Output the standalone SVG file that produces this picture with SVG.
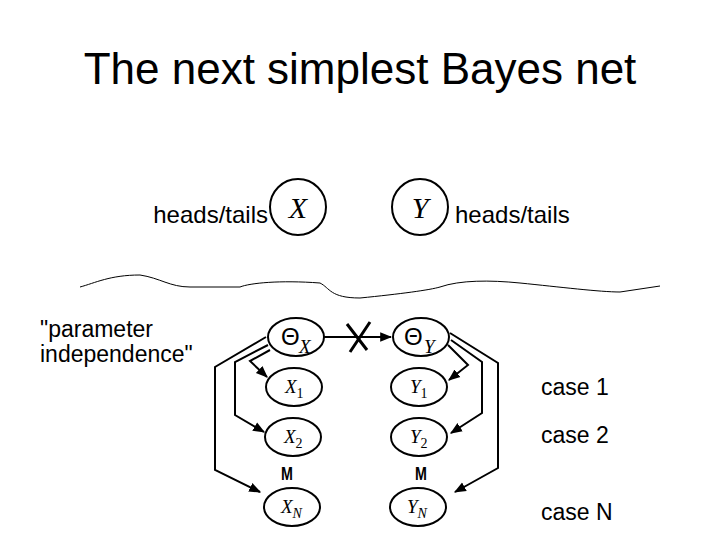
<svg xmlns="http://www.w3.org/2000/svg" width="720" height="540" viewBox="0 0 720 540">
<style>
.t{font-family:"Liberation Sans",Arial,sans-serif;fill:#000}
.m{font-family:"Liberation Serif","Times New Roman",serif;font-style:italic;fill:#000}
.n{fill:#fff;stroke:#000;stroke-width:2}
.c{fill:none;stroke:#000;stroke-width:2}
</style>
<defs><marker id="a" viewBox="0 0 10 10" refX="9" refY="5" markerWidth="6" markerHeight="6" orient="auto"><path d="M0,1 L10,5 L0,9 z"/></marker></defs>
<rect width="720" height="540" fill="#fff"/>
<text class="t" x="360" y="84" font-size="44" text-anchor="middle">The next simplest Bayes net</text>
<text class="t" x="268" y="223" font-size="24" text-anchor="end">heads/tails</text>
<text class="t" x="455" y="223" font-size="24">heads/tails</text>
<path d="M80,287 C95,283 110,275 140,275 C160,278 170,287 190,287 L240,287 C250,283 280,280 320,283 C330,288 330,298 360,298 C400,294 430,290 440,287 C460,280 490,280 520,283 C560,287 600,292 620,292 L660,286" fill="none" stroke="#000" stroke-width="1"/>
<text class="t" x="40" y="337" font-size="23">"parameter</text>
<text class="t" x="40" y="362" font-size="23">independence"</text>
<text class="t" x="541" y="395" font-size="23">case 1</text>
<text class="t" x="541" y="443" font-size="23">case 2</text>
<text class="t" x="541" y="520" font-size="23">case N</text>
<g id="X"><circle class="n" cx="298" cy="207" r="28"/><text class="m" x="298" y="218" font-size="30" text-anchor="middle">X</text></g>
<g id="Y"><circle class="n" cx="420" cy="207" r="28"/><text class="m" x="420" y="218" font-size="30" text-anchor="middle">Y</text></g>
<g id="connectors" class="c">
<path class="c" d="M324,337 L391,337" marker-end="url(#a)"/>
<path d="M347,324 L367,350 M370,322 L350,352" stroke="#000" stroke-width="3"/>
<path class="c" d="M270,350 L250,361 L267,377" marker-end="url(#a)"/>
<path class="c" d="M268,345 L235,362 L235,415 L264,432" marker-end="url(#a)"/>
<path class="c" d="M266,337 L215,367 L215,470 L260,492" marker-end="url(#a)"/>
<path class="c" d="M448,345 L468,365 L449,380" marker-end="url(#a)"/>
<path class="c" d="M451,340 L482,362 L482,413 L451,433" marker-end="url(#a)"/>
<path class="c" d="M450,333 L498,363 L498,468 L455,492" marker-end="url(#a)"/>
</g>
<g id="ThX"><ellipse class="n" cx="296" cy="337" rx="28" ry="19"/><text class="t" x="281" y="345" font-size="24">Θ</text><text class="m" x="299" y="353" font-size="19">X</text></g>
<g id="ThY"><ellipse class="n" cx="421" cy="337" rx="28" ry="19"/><text class="t" x="404" y="345" font-size="24">Θ</text><text class="m" x="424" y="353" font-size="19">Y</text></g>
<g id="X1"><ellipse class="n" cx="294" cy="387" rx="28" ry="19"/><text class="m" x="285" y="393" font-size="19">X<tspan font-style="normal" font-size="14" dy="5">1</tspan></text></g>
<g id="X2"><ellipse class="n" cx="293" cy="437" rx="28" ry="19"/><text class="m" x="284" y="443" font-size="19">X<tspan font-style="normal" font-size="14" dy="5">2</tspan></text></g>
<g id="XN"><ellipse class="n" cx="292" cy="507" rx="28" ry="19"/><text class="m" x="281" y="513" font-size="19">X<tspan font-size="14" dy="5">N</tspan></text></g>
<g id="Y1"><ellipse class="n" cx="419" cy="387" rx="28" ry="19"/><text class="m" x="410" y="393" font-size="19">Y<tspan font-style="normal" font-size="14" dy="5">1</tspan></text></g>
<g id="Y2"><ellipse class="n" cx="419" cy="437" rx="28" ry="19"/><text class="m" x="410" y="443" font-size="19">Y<tspan font-style="normal" font-size="14" dy="5">2</tspan></text></g>
<g id="YN"><ellipse class="n" cx="418" cy="507" rx="28" ry="19"/><text class="m" x="407" y="513" font-size="19">Y<tspan font-size="14" dy="5">N</tspan></text></g>
<text class="t" x="287" y="480" font-size="19" font-weight="bold" text-anchor="middle" transform="translate(287,0) scale(0.75,1) translate(-287,0)">M</text>
<text class="t" x="421" y="480" font-size="19" font-weight="bold" text-anchor="middle" transform="translate(421,0) scale(0.75,1) translate(-421,0)">M</text>
</svg>
